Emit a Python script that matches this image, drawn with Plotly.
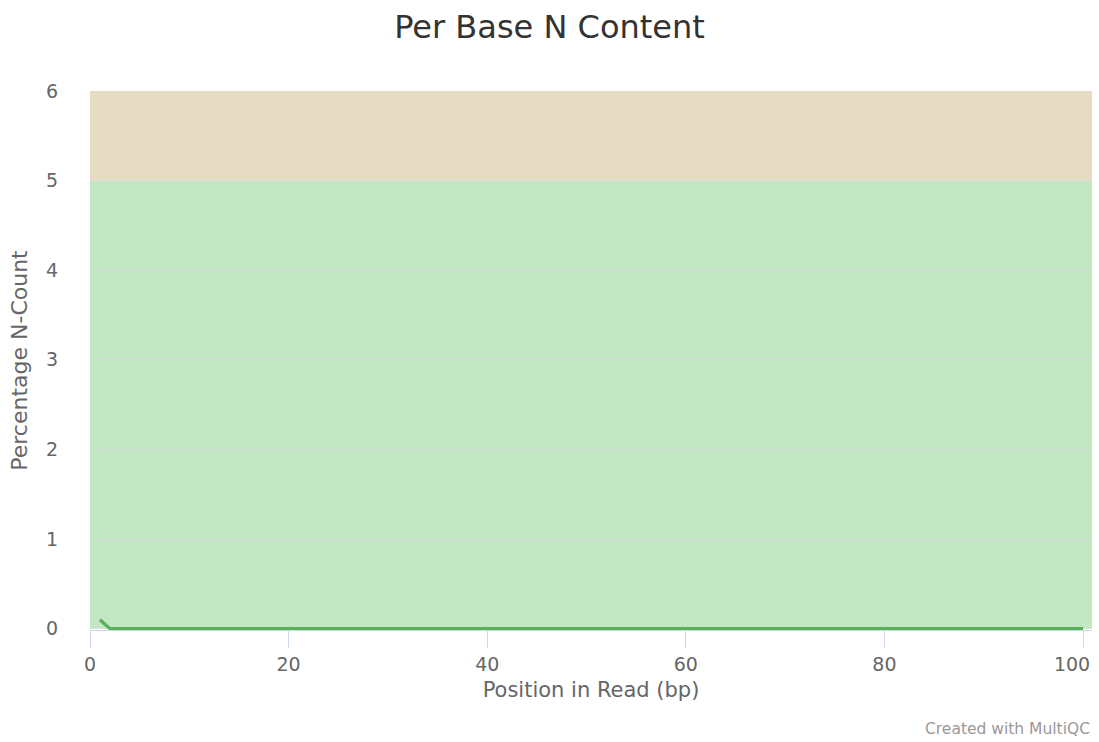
import plotly.graph_objects as go

# Per-position N content (%) for positions 1..100
positions = list(range(1, 101))
n_content = [0.0] * 100
n_content[0] = 0.10
n_content[4] = 0.006
n_content[66] = 0.005
n_content[73] = 0.006
n_content[91] = 0.005

# Background bands: (y0, y1, colour)
bands = [
    (0, 5, "#c3e6c3"),
    (5, 6, "#e6dcc4"),
]

y_ticks = [0, 1, 2, 3, 4, 5, 6]
x_ticks = [0, 20, 40, 60, 80]
x_end_tick = [100]

FONT = "DejaVu Sans"
X_RANGE = [0, 100.9]
Y_RANGE = [-0.015, 6]  # small headroom below zero so the line is not clipped
AXIS_GREY = "#ccd6eb"

fig = go.Figure()
fig.add_trace(go.Scatter(
    x=positions, y=n_content, mode="lines",
    line=dict(color="#58b158", width=3.2),
    hoverinfo="x+y", showlegend=False,
))
# empty trace so the overlay axis carrying the last tick gets drawn
fig.add_trace(go.Scatter(x=[], y=[], xaxis="x2", showlegend=False, hoverinfo="skip"))

for y0, y1, col in bands:
    fig.add_shape(type="rect", xref="paper", yref="y", x0=0, x1=1, y0=y0, y1=y1,
                  fillcolor=col, line=dict(width=0), layer="below")

tick_font = dict(size=19, color="#666666")

fig.update_layout(
    width=1099, height=742,
    margin=dict(l=90, r=7, t=91, b=112),
    paper_bgcolor="white", plot_bgcolor="white",
    font=dict(family=FONT, color="#666666"),
    title=dict(text="Per Base N Content", x=0.5, xanchor="center", y=0.964, yanchor="middle",
               font=dict(family=FONT, size=32, color="#333333")),
    xaxis=dict(
        range=X_RANGE, tickvals=x_ticks, showgrid=False, zeroline=False,
        showline=True, linecolor=AXIS_GREY, linewidth=1,
        ticks="outside", ticklen=17, tickcolor=AXIS_GREY,
        tickfont=tick_font,
        title=dict(text="Position in Read (bp)", font=dict(size=21, color="#666666"), standoff=8),
    ),
    xaxis2=dict(
        range=X_RANGE, overlaying="x", side="bottom", anchor="y",
        tickvals=x_end_tick, showgrid=False, zeroline=False, showline=False,
        ticks="outside", ticklen=17, tickcolor=AXIS_GREY,
        tickfont=tick_font, ticklabelshift=-11, ticklabeloverflow="allow",
    ),
    yaxis=dict(
        range=Y_RANGE, tickvals=y_ticks, showgrid=True, gridcolor="rgba(222,222,222,0.75)",
        zeroline=False, showline=False, ticks="", ticklabelstandoff=31,
        tickfont=tick_font,
        title=dict(text="Percentage N-Count", font=dict(size=22, color="#666666"), standoff=12),
    ),
)

fig.add_annotation(text="Created with MultiQC", xref="paper", yref="paper",
                   x=1.0, y=-0.184, xanchor="right", yanchor="middle", showarrow=False,
                   font=dict(size=15.5, color="#999999"))

fig.write_html("out.html")
